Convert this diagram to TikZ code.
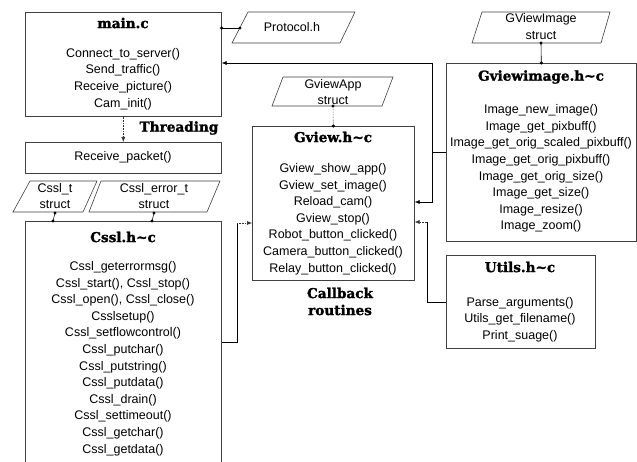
\documentclass[tikz,border=0pt]{standalone}
\usepackage{fontspec}
\setmainfont{Liberation Sans}
\newfontfamily\titlefont{DejaVu Serif}[BoldFeatures={FakeBold=1.6}]
\usetikzlibrary{arrows.meta}

\begin{document}
\begin{tikzpicture}[x=1pt,y=-1pt,
  box/.style={draw=black!75,line width=0.6pt,anchor=north west,inner sep=0pt},
  title/.style={font=\titlefont\bfseries\fontsize{13.6}{17}\selectfont,inner sep=0pt,align=center},
  fnlist/.style={font=\fontsize{12.5}{16.6}\selectfont,align=center,inner sep=0pt},
  tag/.style={font=\fontsize{12.5}{16.2}\selectfont,align=center,inner sep=0pt},
  slanted/.style={draw=black!75,line width=0.6pt},
  link/.style={draw=black,line width=0.6pt},
  dlink/.style={draw=black!80,line width=0.6pt,densely dotted},
  arr/.style={-{Latex[length=5pt,width=4pt]}},
  pin/.style={fill=black}
]
\useasboundingbox (0,0) rectangle (637,462);
\fill[white] (0,0) rectangle (637,462);
\clip (0,0) rectangle (637,462);

% ---- main.c ----
\node[box,minimum width=196pt,minimum height=104pt] (main) at (25,12) {};
\node[title] (maintitle) at (123,23) {main.c};
\node[fnlist] (mainfn) at (123,79) {Connect\_to\_server()\\Send\_traffic()\\Receive\_picture()\\Cam\_init()};

% ---- receive thread ----
\node[title] (thr) at (179,128) {Threading};
\node[box,minimum width=196pt,minimum height=31pt] (recv) at (25,142) {};
\node[fnlist] (recvfn) at (123,157.5) {Receive\_packet()};

% ---- Protocol.h ----
\draw[slanted] (232,43) -- (248,12) -- (355,12) -- (340,43) -- cycle;
\node[tag] (proto) at (292,27) {Protocol.h};
\coordinate (protoL) at (240,28);

% ---- GViewImage struct ----
\draw[slanted] (472,43) -- (482,12) -- (610,12) -- (601,43) -- cycle;
\node[tag] (gimgstruct) at (541,26.5) {GViewImage\\struct};
\coordinate (gimgS) at (541,43);

% ---- Gviewimage.h~c ----
\node[box,minimum width=190pt,minimum height=178pt] (gimg) at (446,63) {};
\node[title] (gimgtitle) at (541,77) {Gviewimage.h\textasciitilde c};
\node[fnlist] (gimgfn) at (541,168.5) {Image\_new\_image()\\Image\_get\_pixbuff()\\Image\_get\_orig\_scaled\_pixbuff()\\Image\_get\_orig\_pixbuff()\\Image\_get\_orig\_size()\\Image\_get\_size()\\Image\_resize()\\Image\_zoom()};

% ---- GviewApp struct ----
\draw[slanted] (272,106) -- (283,77) -- (393,77) -- (382,106) -- cycle;
\node[tag] (appstruct) at (333,92) {GviewApp\\struct};
\coordinate (appS) at (333,106);

% ---- Gview.h~c ----
\node[box,minimum width=162pt,minimum height=154pt] (gview) at (252,126) {};
\node[title] (gviewtitle) at (333,137) {Gview.h\textasciitilde c};
\node[fnlist] (gviewfn) at (333,219) {Gview\_show\_app()\\Gview\_set\_image()\\Reload\_cam()\\Gview\_stop()\\Robot\_button\_clicked()\\Camera\_button\_clicked()\\Relay\_button\_clicked()};
\node[title] (callback) at (340,301.5) {Callback\\routines};

% ---- Utils.h~c ----
\node[box,minimum width=149pt,minimum height=93pt] (utils) at (446,255) {};
\node[title] (utilstitle) at (520,267) {Utils.h\textasciitilde c};
\node[fnlist] (utilsfn) at (520,319.5) {Parse\_arguments()\\Utils\_get\_filename()\\Print\_suage()};

% ---- Cssl structs ----
\draw[slanted] (13,212) -- (30,181) -- (97,181) -- (83,212) -- cycle;
\node[tag] (cssltstruct) at (55,196) {Cssl\_t\\struct};
\coordinate (csstS) at (55,213);
\coordinate (csstT) at (53,221);
\draw[slanted] (89,212) -- (101,181) -- (220,181) -- (207,212) -- cycle;
\node[tag] (csslestruct) at (154,196) {Cssl\_error\_t\\struct};
\coordinate (csseS) at (154,213);
\coordinate (csseT) at (152,221);

% ---- Cssl.h~c ----
\node[box,minimum width=196pt,minimum height=260pt] (cssl) at (25,221) {};
\node[title] (cssltitle) at (123,237) {Cssl.h\textasciitilde c};
\node[fnlist] (csslfn) at (123,358.5) {Cssl\_geterrormsg()\\Cssl\_start(), Cssl\_stop()\\Cssl\_open(), Cssl\_close()\\Csslsetup()\\Cssl\_setflowcontrol()\\Cssl\_putchar()\\Cssl\_putstring()\\Cssl\_putdata()\\Cssl\_drain()\\Cssl\_settimeout()\\Cssl\_getchar()\\Cssl\_getdata()};

% ---- connectors ----
\coordinate (jA) at (432,63);
\coordinate (jB) at (432,152);
\coordinate (jC) at (432,202);
\coordinate (jD) at (427,302);
\coordinate (jE) at (427,222);
\coordinate (jF) at (237,342);
\coordinate (jG) at (237,223);

\draw[link] (main.east |- protoL) -- (protoL);
\fill[pin] (main.east |- protoL) circle (1.7pt) (protoL) circle (1.7pt);

\draw[link] (gimg.west |- jB) -- (jB) -- (jA);
\draw[link,arr] (jA) -- (main.east |- jA);
\draw[link,arr] (jB) -- (jC) -- (gview.east |- jC);

\draw[link] (utils.west |- jD) -- (jD) -- (jE);
\draw[dlink,arr] (jE) -- (gview.east |- jE);

\draw[link] (cssl.east |- jF) -- (jF) -- (jG);
\draw[dlink,arr] (jG) -- (gview.west |- jG);

\draw[dlink,arr] (main.south) -- (recv.north);

\draw[link] (gimgS) -- (gimg.north);
\fill[pin] (gimgS) circle (1.7pt) (gimg.north) circle (1.7pt);
\draw[dlink] (appS) -- (gview.north);
\fill[pin] (appS) circle (1.7pt) (gview.north) circle (1.7pt);
\draw[link] (csstS) -- (csstT);
\fill[pin] (csstS) circle (1.7pt) (csstT) circle (1.7pt);
\draw[link] (csseS) -- (csseT);
\fill[pin] (csseS) circle (1.7pt) (csseT) circle (1.7pt);
\end{tikzpicture}
\end{document}
